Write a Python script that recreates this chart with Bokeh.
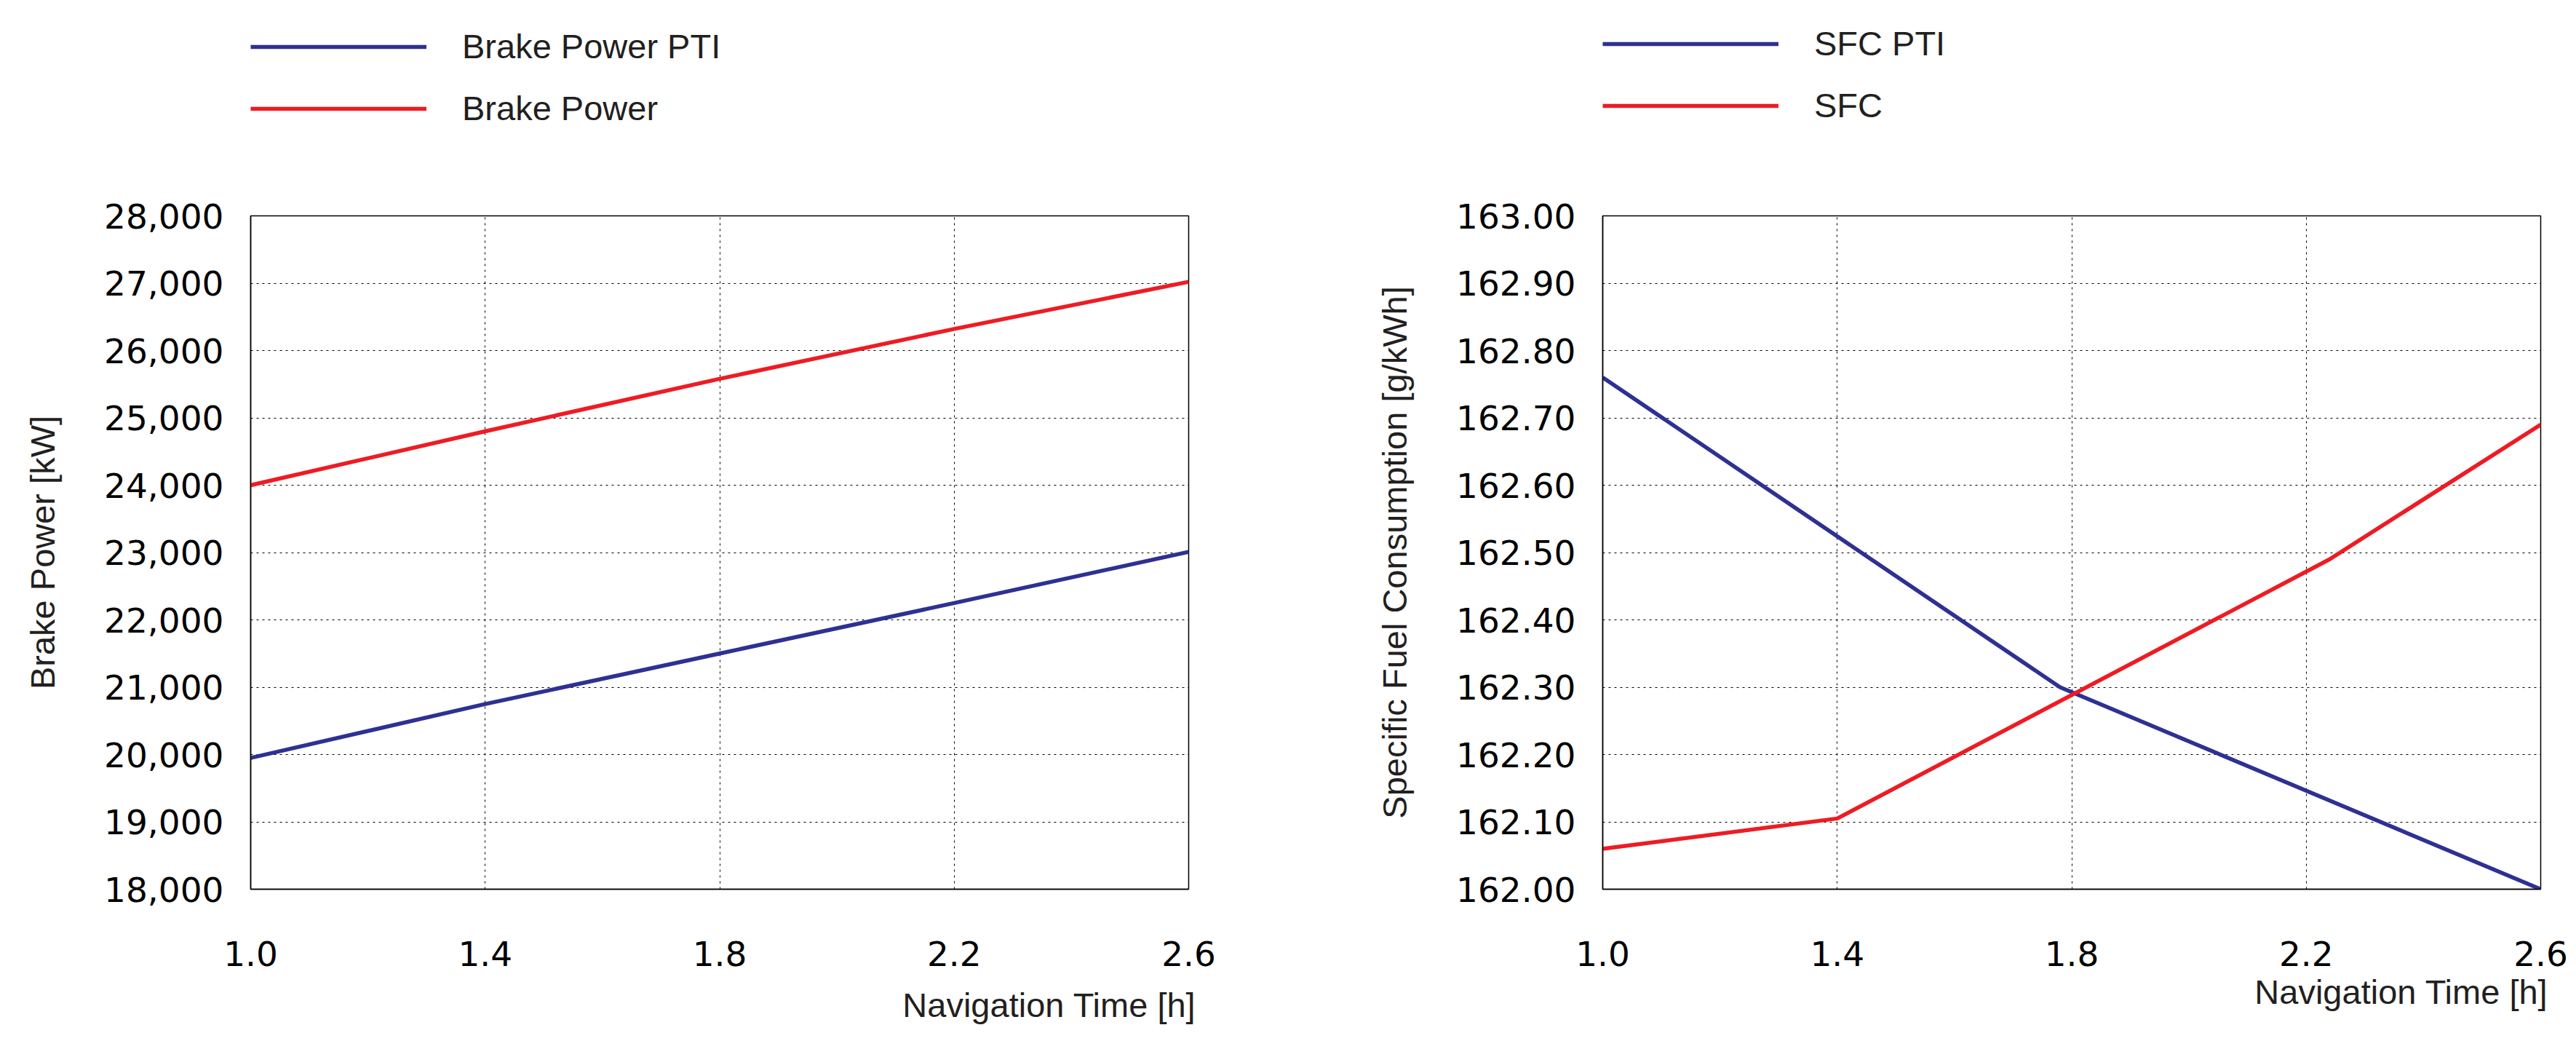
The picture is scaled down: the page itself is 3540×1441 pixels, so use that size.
from bokeh.plotting import figure
from bokeh.models import (Range1d, FixedTicker, NumeralTickFormatter, Legend,
                          LegendItem, Title)
from bokeh.layouts import row, column
from bokeh.embed import file_html
from bokeh.resources import INLINE

# ---------------- data ----------------
nav_time = [1.0, 1.4, 1.8, 2.2, 2.6]
brake_power_pti = [19950, 20750, 21500, 22250, 23010]
brake_power = [24000, 24800, 25580, 26320, 27020]

sfc_pti_time = [1.0, 1.78, 2.6]
sfc_pti = [162.76, 162.30, 162.00]
sfc_time = [1.0, 1.4, 2.24, 2.6]
sfc = [162.06, 162.105, 162.49, 162.69]

x_ticks = [1.0, 1.4, 1.8, 2.2, 2.6]
bp_ticks = [18000, 19000, 20000, 21000, 22000, 23000, 24000, 25000, 26000, 27000, 28000]
sfc_ticks = [162.0, 162.1, 162.2, 162.3, 162.4, 162.5, 162.6, 162.7, 162.8, 162.9, 163.0]

# ---------------- style ----------------
FONT = "Liberation Sans"
TICK_FONT = "DejaVu Sans"
FS = "47px"
TICK_FS = "47px"
BLUE = "#2E3192"
RED = "#ED1C24"
LABEL_COLOR = "#231F20"
LW = 5.5
LEG_H = 256
H = 1174
MBT = 40
MBB = 209


def make_fig(width, mbl, mbr, yrange, yticks, yfmt, ylabel, xlab_standoff,
             series):
    p = figure(width=width, height=H, x_range=Range1d(1.0, 2.6),
               y_range=Range1d(*yrange), output_backend="svg",
               toolbar_location=None, min_border_left=mbl,
               min_border_right=mbr, min_border_top=MBT,
               min_border_bottom=MBB)
    p.xaxis.ticker = FixedTicker(ticks=x_ticks)
    p.xaxis.formatter = NumeralTickFormatter(format="0.0")
    p.yaxis.ticker = FixedTicker(ticks=yticks)
    p.yaxis.formatter = NumeralTickFormatter(format=yfmt)
    for ax in p.axis:
        ax.major_label_text_font = TICK_FONT
        ax.major_label_text_font_size = TICK_FS
        ax.major_label_text_color = "black"
        ax.major_tick_out = 0
        ax.major_tick_in = 0
        ax.minor_tick_out = 0
        ax.minor_tick_in = 0
        ax.axis_line_color = "black"
        ax.axis_line_width = 1.5
    p.yaxis.major_label_standoff = 37
    p.xaxis.major_label_standoff = 71

    p.yaxis.axis_label = ylabel
    p.yaxis.axis_label_text_font = FONT
    p.yaxis.axis_label_text_font_size = FS
    p.yaxis.axis_label_text_font_style = "normal"
    p.yaxis.axis_label_text_color = LABEL_COLOR
    p.yaxis.axis_label_standoff = 55

    p.grid.grid_line_color = "black"
    p.grid.grid_line_dash = "3 5"
    p.grid.grid_line_width = 1
    p.outline_line_color = "black"
    p.outline_line_width = 1.5
    p.background_fill_color = "white"
    p.border_fill_color = "white"

    for (xs, ys, color, label) in series:
        p.line(xs, ys, line_color=color, line_width=LW)

    xt = Title(text="Navigation Time [h]", align="right", offset=-10,
               vertical_align="bottom", standoff=xlab_standoff,
               text_font=FONT, text_font_size=FS, text_font_style="normal",
               text_color=LABEL_COLOR)
    p.add_layout(xt, "below")
    return p


def make_legend_fig(width, mbl, mbr, top, series):
    # a strip above the chart that only carries the legend
    lf = figure(width=width, height=LEG_H, x_range=Range1d(-2.0, -1.0),
                y_range=Range1d(0, 1), x_axis_type=None, y_axis_type=None,
                output_backend="svg", toolbar_location=None,
                min_border_left=mbl, min_border_right=mbr,
                min_border_top=top, min_border_bottom=0)
    lf.outline_line_color = None
    lf.background_fill_color = "white"
    lf.border_fill_color = "white"
    items = []
    for (xs, ys, color, label) in series:
        r = lf.line(xs, ys, line_color=color, line_width=LW)
        items.append(LegendItem(label=label, renderers=[r]))
    legend = Legend(items=items, location="top_left",
                    orientation="vertical", glyph_width=242,
                    glyph_height=54, label_height=54, label_standoff=49,
                    spacing=30, padding=0, margin=0,
                    border_line_color=None, background_fill_alpha=0,
                    label_text_font=FONT, label_text_font_size=FS,
                    label_text_color=LABEL_COLOR)
    lf.add_layout(legend, "center")
    return lf


series1 = [(nav_time, brake_power_pti, BLUE, "Brake Power PTI"),
           (nav_time, brake_power, RED, "Brake Power")]
series2 = [(sfc_pti_time, sfc_pti, BLUE, "SFC PTI"),
           (sfc_time, sfc, RED, "SFC")]

p1 = make_fig(1778, 344, 145, (18000, 28000), bp_ticks, "0,0",
              "Brake Power [kW]", 44, series1)
p2 = make_fig(1752, 424, 39, (162.0, 163.0), sfc_ticks, "0.00",
              "Specific Fuel Consumption [g/kWh]", 9, series2)

l1 = make_legend_fig(1778, 344, 145, 36, series1)
l2 = make_legend_fig(1752, 424, 39, 32, series2)

layout = row(column(l1, p1), column(l2, p2))
open("out.html", "w").write(file_html(layout, INLINE))
